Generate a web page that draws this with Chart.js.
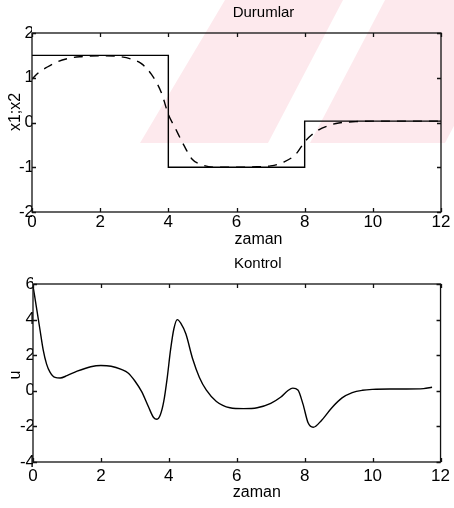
<!DOCTYPE html>
<html>
<head>
<meta charset="utf-8">
<script src="https://cdn.jsdelivr.net/npm/chart.js@4.4.0/dist/chart.umd.min.js"></script>
<style>
  html, body { margin: 0; padding: 0; background: #fff; }
  #wrap { position: relative; width: 454px; height: 508px; overflow: hidden; }
  .panel { position: absolute; left: 0; width: 454px; height: 254px; }
  #top { top: 0; }
  #bottom { top: 254px; }
</style>
</head>
<body>
<div id="wrap">
  <div class="panel" id="top"><canvas id="statesChart" width="454" height="254"></canvas></div>
  <div class="panel" id="bottom"><canvas id="controlChart" width="454" height="254"></canvas></div>
</div>
<script>
// time axis and tick values
const timeTicks = [0, 2, 4, 6, 8, 10, 12];
const stateTicks = [-2, -1, 0, 1, 2];
const controlTicks = [-4, -2, 0, 2, 4, 6];

// x1: piecewise constant reference
const x1Time = [0, 4, 4, 8, 8, 12];
const x1Values = [1.5, 1.5, -1, -1, 0.03, 0.03];

// x2: tracked state (dashed)
const x2Time = [0, 0.2, 0.45, 0.7, 1.0, 1.4, 2.0, 2.6, 2.9, 3.2, 3.5, 3.8, 4.0, 4.2, 4.45, 4.7, 5.0, 5.4, 6.0, 6.6, 7.0, 7.4, 7.75, 8.0, 8.2, 8.4, 8.7, 9.0, 9.5, 10, 12];
const x2Values = [0.97, 1.12, 1.24, 1.34, 1.42, 1.47, 1.49, 1.47, 1.42, 1.32, 1.08, 0.66, 0.18, -0.12, -0.5, -0.82, -0.95, -1.0, -1.0, -0.99, -0.97, -0.88, -0.7, -0.43, -0.28, -0.17, -0.07, -0.01, 0.02, 0.03, 0.03];

// u: control signal
const uTime = [0, 0.05, 0.1, 0.2, 0.3, 0.4, 0.5, 0.65, 0.8, 1.0, 1.3, 1.7, 2.0, 2.3, 2.6, 2.8, 3.0, 3.2, 3.4, 3.55, 3.65, 3.75, 3.85, 3.95, 4.05, 4.15, 4.25, 4.35, 4.5, 4.7, 4.9, 5.1, 5.4, 5.8, 6.2, 6.6, 7.0, 7.3, 7.5, 7.65, 7.8, 7.95, 8.1, 8.25, 8.5, 8.8, 9.1, 9.4, 9.7, 10.0, 10.5, 11.0, 11.5, 11.75];
const uValues = [5.9, 5.3, 4.7, 3.5, 2.3, 1.5, 1.05, 0.75, 0.72, 0.85, 1.1, 1.35, 1.42, 1.38, 1.2, 1.0, 0.55, -0.05, -0.9, -1.5, -1.6, -1.35, -0.6, 0.7, 2.3, 3.5, 4.0, 3.8, 3.2, 1.8, 0.75, 0.05, -0.6, -0.95, -1.0, -0.95, -0.7, -0.35, 0.0, 0.15, 0.05, -0.75, -1.8, -2.05, -1.65, -0.95, -0.4, -0.1, 0.03, 0.08, 0.1, 0.1, 0.12, 0.2];

const FONT = '"Liberation Sans", Arial, Helvetica, sans-serif';
Chart.defaults.font.family = FONT;
Chart.defaults.color = '#000';

const pts = (xs, ys) => xs.map((x, i) => ({ x: x, y: ys[i] }));

// box around the plot with inward tick marks on all four sides
const boxFrame = {
  id: 'boxFrame',
  afterDatasetsDraw(chart) {
    const { ctx, chartArea: a, scales: { x, y } } = chart;
    ctx.save();
    ctx.strokeStyle = '#111';
    ctx.lineWidth = 1.3;
    ctx.strokeRect(a.left, a.top, a.right - a.left, a.bottom - a.top);
    ctx.beginPath();
    x.ticks.forEach(t => {
      const px = Math.round(x.getPixelForValue(t.value)) + 0.5;
      ctx.moveTo(px, a.bottom); ctx.lineTo(px, a.bottom - 4);
      ctx.moveTo(px, a.top); ctx.lineTo(px, a.top + 4);
    });
    y.ticks.forEach(t => {
      const py = Math.round(y.getPixelForValue(t.value)) + 0.5;
      ctx.moveTo(a.left, py); ctx.lineTo(a.left + 4, py);
      ctx.moveTo(a.right, py); ctx.lineTo(a.right - 4, py);
    });
    ctx.stroke();
    ctx.restore();
  }
};

// title, x label and rotated y label
const panelText = {
  id: 'panelText',
  afterDraw(chart, args, opts) {
    const { ctx, chartArea: a } = chart;
    const cx = (a.left + a.right) / 2;
    ctx.save();
    ctx.fillStyle = '#000';
    ctx.font = '15px ' + FONT;
    ctx.textAlign = 'center';
    ctx.textBaseline = 'middle';
    ctx.fillText(opts.title, cx + opts.titleShift, opts.titleY);
    ctx.font = '16px ' + FONT;
    ctx.fillText(opts.xLabel, cx + opts.xLabelShift, opts.xLabelY);
    ctx.translate(opts.yLabelX, opts.yLabelY);
    ctx.rotate(-Math.PI / 2);
    ctx.fillText(opts.yLabel, 0, 0);
    ctx.restore();
  }
};

// faint diagonal bands behind the upper panel
const bands = {
  id: 'bands',
  beforeDraw(chart, args, opts) {
    if (!opts.shapes) return;
    const ctx = chart.ctx;
    ctx.save();
    ctx.fillStyle = opts.color;
    opts.shapes.forEach(s => {
      ctx.beginPath();
      s.forEach((p, i) => i ? ctx.lineTo(p[0], p[1]) : ctx.moveTo(p[0], p[1]));
      ctx.closePath();
      ctx.fill();
    });
    ctx.restore();
  }
};

function axes(yTicks, yMin, yMax, yWidth, xHeight, xPad) {
  return {
    x: {
      type: 'linear', min: 0, max: 12,
      afterBuildTicks: s => { s.ticks = timeTicks.map(v => ({ value: v })); },
      afterFit: s => { s.height = xHeight; },
      grid: { display: false, drawTicks: false },
      border: { display: false },
      ticks: { font: { size: 17 }, padding: xPad, maxRotation: 0, color: '#000' }
    },
    y: {
      type: 'linear', min: yMin, max: yMax,
      afterBuildTicks: s => { s.ticks = yTicks.map(v => ({ value: v })); },
      afterFit: s => { s.width = yWidth; },
      grid: { display: false, drawTicks: false },
      border: { display: false },
      ticks: { font: { size: 17 }, padding: -2, color: '#000' }
    }
  };
}

new Chart(document.getElementById('statesChart'), {
  type: 'line',
  data: {
    datasets: [
      { data: pts(x1Time, x1Values), borderColor: '#000', borderWidth: 1.4, pointRadius: 0, tension: 0 },
      { data: pts(x2Time, x2Values), borderColor: '#000', borderWidth: 1.4, pointRadius: 0, borderDash: [9, 7], cubicInterpolationMode: 'monotone' }
    ]
  },
  options: {
    responsive: false,
    animation: false,
    layout: { padding: { top: 33, right: 13, bottom: 0, left: 0 } },
    scales: axes(stateTicks, -2, 2, 32, 42, 0),
    plugins: {
      legend: { display: false },
      tooltip: { enabled: false },
      panelText: { title: 'Durumlar', xLabel: 'zaman', yLabel: 'x1;x2', titleShift: 27, xLabelShift: 22, titleY: 13, xLabelY: 240, yLabelX: 16, yLabelY: 112 },
      bands: {
        color: '#fde9ed',
        shapes: [
          [[225, 0], [343, 0], [268, 143], [140, 143]],
          [[385, 0], [520, 0], [445, 143], [310, 143]]
        ]
      }
    }
  },
  plugins: [bands, boxFrame, panelText]
});

new Chart(document.getElementById('controlChart'), {
  type: 'line',
  data: {
    datasets: [
      { data: pts(uTime, uValues), borderColor: '#000', borderWidth: 1.4, pointRadius: 0, cubicInterpolationMode: 'monotone' }
    ]
  },
  options: {
    responsive: false,
    animation: false,
    layout: { padding: { top: 30, right: 12, bottom: 0, left: 0 } },
    scales: axes(controlTicks, -4, 6, 33, 46, 4),
    plugins: {
      legend: { display: false },
      tooltip: { enabled: false },
      panelText: { title: 'Kontrol', xLabel: 'zaman', yLabel: 'u', titleShift: 21, xLabelShift: 20, titleY: 10, xLabelY: 239, yLabelX: 16, yLabelY: 121 }
    }
  },
  plugins: [boxFrame, panelText]
});
</script>
</body>
</html>
